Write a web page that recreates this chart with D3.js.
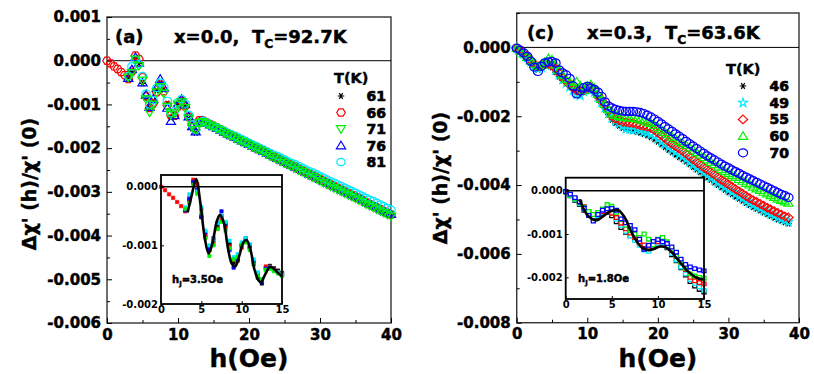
<!DOCTYPE html>
<html>
<head>
<meta charset="utf-8">
<script src="https://cdn.jsdelivr.net/npm/d3@7"></script>
<style>
  body { margin: 0; background: #fff; }
  svg text { font-family: "DejaVu Sans", sans-serif; font-weight: bold; fill: #000; }
  svg text.heavy { stroke: #000; stroke-width: 0.45px; }
  svg text.legnum { stroke: #000; stroke-width: 0.7px; }
</style>
</head>
<body>
<svg id="fig" width="814" height="374"></svg>
<script>
// field grids (Oe)
const hA = d3.range(0, 40.001, 0.5);
const hC = d3.range(0, 38.501, 0.5);

// panel (a), x=0.0 -- values in units of 1e-5
const a61 = [null, null, null, null, null, null,
  -40, -24, 6, -6, -52, -85, -108, -92, -68, -50, -66, -98, -130, -122, -100, -90, -104, -132, -155, -165, -138, -135,
  -139, -143, -147, -151, -155, -160, -164, -168, -172, -176, -180, -184, -188, -192, -196, -200, -204, -208, -213, -217,
  -221, -225, -229, -233, -237, -241, -245, -249, -253, -257, -261, -265, -269, -273, -277, -281, -285, -289, -293, -297,
  -301, -305, -309, -313, -317, -322, -326, -330, -334, -338, -342, -346, -350];
const a66 = [0, -6, -13, -19, -26, -33,
  -42, -25, 12, 4, -38, -82, -108, -98, -72, -55, -70, -102, -125, -126, -104, -92, -104, -128, -148, -158, -136, -137,
  -141, -145, -149, -153, -157, -162, -166, -170, -174, -178, -182, -186, -190, -194, -198, -202, -206, -210, -215, -219,
  -223, -227, -231, -235, -239, -243, -247, -251, -255, -259, -263, -267, -271, -275, -279, -283, -287, -291, -295, -299,
  -303, -307, -311, -315, -319, -324, -328, -332, -336, -340, -344, -348, -352];
const a71 = [null, null, null, null, null, null,
  -38, -28, 3, -12, -45, -88, -118, -100, -72, -60, -75, -105, -124, -120, -100, -95, -108, -132, -152, -158, -142, -140,
  -144, -148, -152, -156, -160, -165, -169, -173, -177, -181, -185, -189, -193, -197, -201, -205, -209, -213, -218, -222,
  -226, -230, -234, -238, -242, -246, -250, -254, -258, -262, -266, -270, -275, -279, -283, -287, -291, -295, -299, -303,
  -307, -311, -315, -319, -323, -328, -332, -336, -340, -344, -348, -352, -356];
const a76 = [null, null, null, null, null, null,
  -40, -20, 8, -5, -50, -78, -106, -88, -62, -42, -62, -108, -138, -125, -100, -88, -100, -128, -150, -162, -140, -138,
  -142, -146, -150, -154, -158, -163, -167, -171, -175, -179, -183, -187, -191, -195, -199, -203, -207, -211, -215, -219,
  -223, -227, -231, -235, -239, -243, -247, -251, -255, -259, -263, -267, -271, -275, -279, -283, -287, -291, -295, -299,
  -303, -306, -310, -314, -318, -323, -327, -331, -335, -339, -343, -347, -351];
const a81 = [null, null, null, null, null, null,
  -35, -13, 2, -8, -35, -75, -100, -90, -62, -50, -60, -92, -120, -115, -95, -88, -98, -124, -146, -158, -142, -138,
  -142, -146, -150, -153, -157, -161, -165, -169, -172, -176, -180, -184, -188, -192, -195, -199, -203, -207, -211, -215,
  -218, -222, -226, -230, -234, -237, -241, -245, -249, -253, -256, -260, -264, -268, -272, -276, -279, -283, -287, -291,
  -295, -298, -302, -306, -310, -314, -318, -321, -325, -329, -333, -337, -341];
// inset (a) fit, h_J = 3.5 Oe
const fitAh = [3.3, 3.8, 4.35, 4.9, 5.4, 5.9, 6.4, 6.9, 7.3, 7.8, 8.3, 8.8, 9.2, 9.7, 10.2, 10.6, 11.1, 11.6, 12.1, 12.4, 12.9, 13.5, 14.0, 14.5, 15.0];
const fitAv = [-44, -15, 13, -30, -85, -114, -95, -60, -48, -62, -105, -132, -136, -118, -95, -91, -108, -142, -160, -163, -150, -137, -140, -147, -153];

// panel (c), x=0.3 -- values in units of 1e-5
const c46 = [-3, -12, -22, -32, -45, -56, -64, -60, -52, -50,
  -58, -72, -85, -96, -104, -112, -122, -130, -135, -130,
  -125, -124, -132, -148, -162, -178, -195, -210, -220, -228,
  -234, -238, -241, -243, -245, -248, -252, -256, -261, -267,
  -274, -282, -290, -298, -305, -312, -319, -325, -332, -340,
  -348, -355, -363, -370, -378, -385, -393, -400, -407, -414,
  -421, -427, -434, -440, -446, -452, -458, -464, -469, -474,
  -480, -485, -490, -495, -500, -504, -508, -512];
const c49 = [-3, -11, -20, -30, -42, -54, -62, -58, -50, -46,
  -52, -66, -80, -94, -104, -115, -126, -137, -140, -128,
  -122, -120, -130, -145, -160, -176, -192, -205, -214, -222,
  -230, -236, -238, -240, -238, -241, -245, -248, -252, -258,
  -266, -274, -282, -290, -297, -304, -311, -317, -325, -333,
  -341, -349, -356, -364, -371, -379, -386, -393, -400, -407,
  -414, -420, -427, -433, -439, -446, -452, -457, -463, -468,
  -474, -479, -484, -489, -494, -498, -503, -507];
const c55 = [-2, -9, -18, -27, -37, -48, -55, -50, -48, -48,
  -52, -62, -75, -88, -98, -108, -118, -125, -128, -125,
  -118, -115, -122, -138, -152, -165, -182, -200, -208, -212,
  -215, -217, -219, -220, -223, -226, -229, -231, -234, -240,
  -248, -256, -264, -273, -280, -287, -294, -301, -309, -317,
  -325, -333, -340, -348, -355, -362, -369, -377, -385, -391,
  -398, -405, -412, -418, -425, -432, -438, -444, -449, -455,
  -460, -466, -471, -476, -481, -486, -491, -494];
const c60 = [-2, -10, -18, -28, -38, -48, -55, -50, -42, -32,
  -36, -50, -66, -80, -92, -100, -108, -100, -112, -125,
  -112, -108, -118, -135, -150, -165, -180, -192, -197, -200,
  -202, -203, -204, -205, -207, -210, -213, -216, -220, -226,
  -232, -239, -246, -253, -260, -266, -272, -278, -284, -291,
  -298, -305, -312, -319, -326, -333, -340, -347, -354, -360,
  -366, -372, -377, -383, -388, -394, -399, -405, -410, -415,
  -420, -425, -430, -435, -440, -444, -448, -452];
const c70 = [-2, -8, -16, -26, -40, -57, -70, -55, -45, -42,
  -41, -45, -65, -74, -80, -90, -112, -135, -126, -117,
  -113, -118, -122, -130, -142, -158, -170, -176, -180, -183,
  -185, -186, -186, -186, -187, -189, -192, -197, -202, -208,
  -215, -222, -230, -237, -244, -251, -258, -265, -273, -280,
  -287, -294, -301, -308, -315, -321, -327, -333, -339, -345,
  -350, -356, -361, -366, -372, -377, -382, -387, -392, -397,
  -402, -407, -412, -417, -422, -427, -431, -436];
// inset (c) fit, h_J = 1.8 Oe
const fitCh = [1.5, 2.3, 2.9, 3.4, 4.0, 4.8, 5.7, 6.4, 7.0, 7.7, 8.3, 8.9, 9.5, 10.2, 10.9, 11.5, 12.0, 12.6, 13.1, 13.7, 14.2, 14.9];
const fitCv = [-20, -55, -66, -68, -60, -48, -45, -62, -90, -117, -132, -137, -135, -129, -131, -142, -155, -170, -183, -194, -201, -205];

// ticks
const xMajor = [0, 10, 20, 30, 40];
const xMinor = [5, 15, 25, 35];
const yMajorA = [0.001, 0, -0.001, -0.002, -0.003, -0.004, -0.005, -0.006];
const yMinorA = [0.0005, -0.0005, -0.0015, -0.0025, -0.0035, -0.0045, -0.0055];
const yMajorC = [0, -0.002, -0.004, -0.006, -0.008];
const yMinorC = [0.001, -0.001, -0.003, -0.005, -0.007];
const insetX = [0, 5, 10, 15];
const insetYA = [0, -0.001, -0.002];
const insetYC = [0, -0.001, -0.002];

const shapes = {
  circ: 'M-4.2,0a4.2,3.7 0 1,0 8.4,0a4.2,3.7 0 1,0 -8.4,0Z',
  circL: 'M-4.6,0a4.6,4 0 1,0 9.2,0a4.6,4 0 1,0 -9.2,0Z',
  triUp: 'M0,-4.3L4.6,3.3L-4.6,3.3Z',
  triDn: 'M0,4.3L4.6,-3.3L-4.6,-3.3Z',
  hex: 'M-4.3,0L-2.1,-3.6L2.1,-3.6L4.3,0L2.1,3.6L-2.1,3.6Z',
  diam: 'M0,-4.3L4.7,0L0,4.3L-4.7,0Z',
  star: d3.symbol(d3.symbolStar, 24)(),
  aster: 'M-3.3,0H3.3M-1.7,-2.9L1.7,2.9M1.7,-2.9L-1.7,2.9'
};

const svg = d3.select('#fig');
const fmt = d => d3.format('.3f')(d).replace('\u2212', '-');

function subText(g, x, y, size, a, s, b) {
  const t = g.append('text').attr('class', 'heavy').attr('x', x).attr('y', y).attr('font-size', size);
  t.append('tspan').text(a);
  t.append('tspan').attr('font-size', size * 0.68).attr('dy', size * 0.3).text(s);
  t.append('tspan').attr('dy', -size * 0.3).text(b);
  return t;
}

function axes(g, x, y, o) {
  const tidy = sel => { sel.select('.domain').remove(); sel.selectAll('line').attr('stroke', '#000'); };
  g.append('g').attr('transform', `translate(${o.left},0)`)
    .call(d3.axisLeft(y).tickValues(o.yMajor).tickSize(-o.tick).tickPadding(o.padY).tickFormat(fmt))
    .call(tidy).attr('font-size', o.font).attr('font-family', null)
    .selectAll('text').classed('heavy', o.heavy);
  g.append('g').attr('transform', `translate(0,${o.bottom})`)
    .call(d3.axisBottom(x).tickValues(o.xMajor).tickSize(-o.tick).tickPadding(o.padX).tickFormat(d3.format('d')))
    .call(tidy).attr('font-size', o.font).attr('font-family', null)
    .selectAll('text').classed('heavy', o.heavy);
  if (o.yMinor) g.append('g').attr('transform', `translate(${o.left},0)`)
    .call(d3.axisLeft(y).tickValues(o.yMinor).tickSize(-o.tick * 0.6).tickFormat(''))
    .call(tidy);
  if (o.xMinor) g.append('g').attr('transform', `translate(0,${o.bottom})`)
    .call(d3.axisBottom(x).tickValues(o.xMinor).tickSize(-o.tick * 0.6).tickFormat(''))
    .call(tidy);
}

function panel(p) {
  const g = svg.append('g');
  const x = d3.scaleLinear().domain([0, 40]).range([p.x0, p.x1]);
  const y = d3.scaleLinear().domain(p.yDomain).range([p.yBot, p.yTop]);

  g.append('rect').attr('x', p.x0).attr('y', p.yTop)
    .attr('width', p.x1 - p.x0).attr('height', p.yBot - p.yTop)
    .attr('fill', 'none').attr('stroke', '#333').attr('stroke-width', 1.4);
  g.append('line').attr('x1', p.x0).attr('x2', p.x1).attr('y1', y(0)).attr('y2', y(0))
    .attr('stroke', '#000').attr('stroke-width', 1);

  axes(g, x, y, { left: p.x0, bottom: p.yBot, yMajor: p.yMajor, yMinor: p.yMinor,
    xMajor: xMajor, xMinor: xMinor, tick: 5, padY: 6, padX: 6, font: 15, heavy: true });

  // data
  p.series.forEach(s => {
    const pts = s.vals.map((v, i) => ({ h: p.h[i], v })).filter(d => d.v !== null);
    g.append('g').selectAll('path').data(pts).join('path')
      .attr('d', shapes[s.shape])
      .attr('transform', d => `translate(${x(d.h)},${y(d.v * 1e-5)})`)
      .attr('fill', 'none').attr('stroke', s.color).attr('stroke-width', 1.2);
  });

  // titles
  g.append('text').attr('class', 'heavy').attr('x', p.tag[1]).attr('y', p.tag[2])
    .attr('font-size', 18).text(p.tag[0]);
  subText(g, p.head[1], p.tag[2], 18, p.head[0], 'C', p.head[2]);

  // legend
  g.append('text').attr('class', 'heavy').attr('x', p.leg.x).attr('y', p.leg.y)
    .attr('font-size', 14.5).text('T(K)');
  p.legOrder.forEach((s, i) => {
    const cy = p.leg.y0 + i * p.leg.dy;
    g.append('path').attr('d', shapes[s.shape]).attr('transform', `translate(${p.leg.sx},${cy})`)
      .attr('fill', 'none').attr('stroke', s.color).attr('stroke-width', 1.2);
    g.append('text').attr('class', 'legnum').attr('x', p.leg.lx).attr('y', cy + 5)
      .attr('text-anchor', 'end').attr('font-size', 14).text(s.label);
  });

  // axis titles
  g.append('text').attr('class', 'heavy').attr('transform', `translate(${p.yLab[0]},${p.yLab[1]}) rotate(-90)`)
    .attr('text-anchor', 'middle').attr('font-size', 19).text("\u0394\u03c7' (h)/\u03c7' (0)");
  g.append('text').attr('class', 'heavy').attr('x', (p.x0 + p.x1) / 2).attr('y', 367)
    .attr('text-anchor', 'middle').attr('font-size', 25).text('h(Oe)');

  // inset
  const q = p.inset;
  const gi = g.append('g');
  const xi = d3.scaleLinear().domain([0, 15]).range([q.x0, q.x1]);
  const yi = d3.scaleLinear().domain(q.yDomain).range([q.yBot, q.yTop]);
  gi.append('rect').attr('x', q.x0).attr('y', q.yTop)
    .attr('width', q.x1 - q.x0).attr('height', q.yBot - q.yTop).attr('fill', '#fff');
  p.series.forEach(s => {
    const pts = s.vals.map((v, i) => ({ h: p.h[i], v })).filter(d => d.v !== null && d.h <= 15);
    gi.append('g').selectAll('path').data(pts).join('path')
      .attr('d', q.dot)
      .attr('transform', d => `translate(${xi(d.h)},${yi(d.v * 1e-5)})`)
      .attr('fill', q.filled ? s.color : '#fff').attr('stroke', s.color).attr('stroke-width', q.filled ? 0.6 : 1.3);
  });
  const line = d3.line().x(d => xi(d[0])).y(d => yi(d[1] * 1e-5)).curve(d3.curveCatmullRom);
  gi.append('path').attr('d', line(d3.zip(q.fitH, q.fitV)))
    .attr('fill', 'none').attr('stroke', '#000').attr('stroke-width', 2.6);
  gi.append('line').attr('x1', q.x0).attr('x2', q.x1).attr('y1', yi(0)).attr('y2', yi(0))
    .attr('stroke', '#000').attr('stroke-width', 1.4);
  gi.append('rect').attr('x', q.x0).attr('y', q.yTop)
    .attr('width', q.x1 - q.x0).attr('height', q.yBot - q.yTop)
    .attr('fill', 'none').attr('stroke', '#000').attr('stroke-width', 1.8);
  axes(gi, xi, yi, { left: q.x0, bottom: q.yBot, yMajor: q.yTicks, xMajor: insetX,
    tick: 3, padY: 3, padX: 2, font: 10, heavy: false });
  subText(gi, q.note[1], q.note[2], 10, 'h', 'J', q.note[0]);
}

const serA = {
  s61: { vals: a61, color: '#000', shape: 'aster', label: '61' },
  s66: { vals: a66, color: '#ff0000', shape: 'hex', label: '66' },
  s71: { vals: a71, color: '#00ee00', shape: 'triDn', label: '71' },
  s76: { vals: a76, color: '#0000ff', shape: 'triUp', label: '76' },
  s81: { vals: a81, color: '#00e8ff', shape: 'circ', label: '81' }
};
panel({
  x0: 107, x1: 391, yTop: 17, yBot: 323, yDomain: [-0.006, 0.001],
  yMajor: yMajorA, yMinor: yMinorA, h: hA,
  series: [serA.s61, serA.s66, serA.s76, serA.s81, serA.s71],
  legOrder: [serA.s61, serA.s66, serA.s71, serA.s76, serA.s81],
  tag: ['(a)', 115, 43], head: ['x=0.0,\u00a0 T', 174, '=92.7K'],
  leg: { x: 334, y: 83, y0: 96, dy: 16.5, sx: 341, lx: 386 },
  yLab: [36, 184],
  inset: { x0: 161, x1: 282, yTop: 175, yBot: 304, yDomain: [-0.002, 0.0002], yTicks: insetYA,
    fitH: fitAh, fitV: fitAv, dot: 'M-1.7,-1.7h3.4v3.4h-3.4Z', filled: true,
    note: ['=3.5Oe', 172, 283] }
});

const serC = {
  s46: { vals: c46, color: '#000', shape: 'aster', label: '46' },
  s49: { vals: c49, color: '#00e8ff', shape: 'star', label: '49' },
  s55: { vals: c55, color: '#ff0000', shape: 'diam', label: '55' },
  s60: { vals: c60, color: '#00ee00', shape: 'triUp', label: '60' },
  s70: { vals: c70, color: '#0000ff', shape: 'circL', label: '70' }
};
panel({
  x0: 516.7, x1: 799, yTop: 13, yBot: 322.7, yDomain: [-0.008, 0.001],
  yMajor: yMajorC, yMinor: yMinorC, h: hC,
  series: [serC.s46, serC.s49, serC.s55, serC.s60, serC.s70],
  legOrder: [serC.s46, serC.s49, serC.s55, serC.s60, serC.s70],
  tag: ['(c)', 527, 39], head: ['x=0.3,\u00a0 T', 587, '=63.6K'],
  leg: { x: 726, y: 74, y0: 86, dy: 16.7, sx: 743, lx: 789 },
  yLab: [447, 178],
  inset: { x0: 565.7, x1: 704, yTop: 177.7, yBot: 299, yDomain: [-0.0025, 0.0003], yTicks: insetYC,
    fitH: fitCh, fitV: fitCv, dot: 'M-2,-1.8h4v3.6h-4Z', filled: false,
    note: ['=1.8Oe', 578, 282] }
});
</script>
</body>
</html>
